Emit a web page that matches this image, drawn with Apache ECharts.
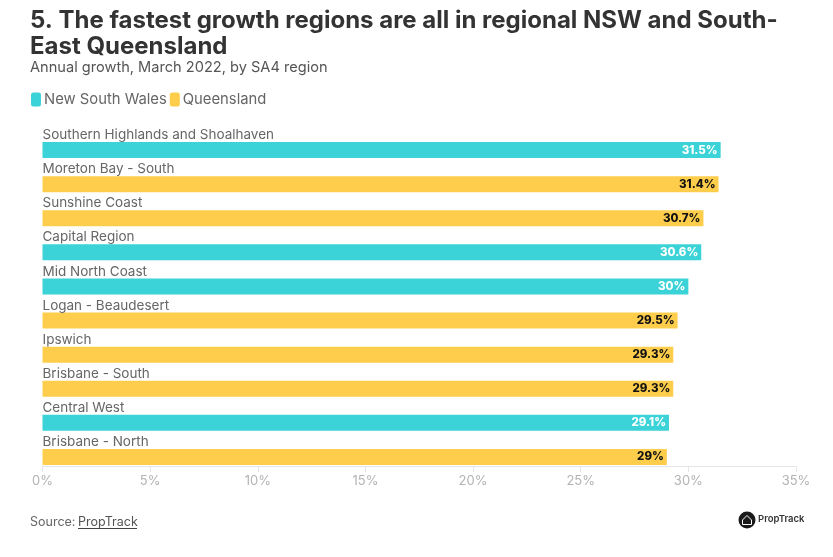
<!DOCTYPE html>
<html>
<head>
<meta charset="utf-8">
<style>html,body{margin:0;padding:0;background:#fff}#chart{width:833px;height:557px}</style>
<script src="https://cdn.jsdelivr.net/npm/echarts@6/dist/echarts.min.js"></script>
</head>
<body>
<div id="chart"></div>
<script>
var FONT = 'Inter';
var regions = ['Southern Highlands and Shoalhaven','Moreton Bay - South','Sunshine Coast','Capital Region','Mid North Coast','Logan - Beaudesert','Ipswich','Brisbane - South','Central West','Brisbane - North'];
var nswValues = [31.5,null,null,30.6,30,null,null,null,29.1,null];
var qldValues = [null,31.4,30.7,null,null,29.5,29.3,29.3,null,29];
var xTicks = [0,5,10,15,20,25,30,35];

var myChart = echarts.init(document.getElementById('chart'));
function barSeries(name, data, color, labelColor) {
	return {
		name: name,
		type: 'bar',
		stack: 'all',
		data: data,
		barWidth: 16,
		itemStyle: {color: color},
		label: {
			show: true,
			position: 'insideRight',
			distance: 3,
			formatter: '{c}%',
			fontFamily: FONT,
			fontSize: 11.5,
			fontWeight: 800,
			color: labelColor
		}
	};
}
myChart.setOption({
	animation: false,
	textStyle: {fontFamily: FONT},
	title: [
		{
			text: '5. The fastest growth regions are all in regional NSW and South-\nEast Queensland',
			left: 25, top: 3,
			textStyle: {fontFamily: FONT, fontSize: 24, fontWeight: 700, color: '#333333', lineHeight: 26}
		},
		{
			text: 'Annual growth, March 2022, by SA4 region',
			left: 25, top: 55,
			textStyle: {fontFamily: FONT, fontSize: 14.6, fontWeight: 400, color: '#555555'}
		}
	],
	legend: {
		left: 26, top: 87,
		itemWidth: 10, itemHeight: 14, itemGap: 3,
		icon: 'roundRect',
		data: ['New South Wales','Queensland'],
		textStyle: {fontFamily: FONT, fontSize: 14.8, color: '#666666', padding: [0,0,0,-2]}
	},
	grid: {left: 42.5, right: 37, top: 133, bottom: 83},
	xAxis: {
		type: 'value',
		min: 0, max: 35, interval: 5,
		offset: -8,
		axisLine: {show: true, lineStyle: {color: '#e6e6e6'}},
		axisTick: {show: true, length: 6, lineStyle: {color: '#e6e6e6'}},
		splitLine: {show: false},
		axisLabel: {
			margin: 9,
			fontFamily: FONT, fontSize: 13, color: '#b3b3b3',
			formatter: function(v){ return xTicks.indexOf(v) >= 0 ? v + '%' : ''; }
		}
	},
	yAxis: {
		type: 'category',
		inverse: true,
		data: regions,
		axisLine: {show: false},
		axisTick: {show: false},
		axisLabel: {
			inside: true,
			margin: 0,
			verticalAlign: 'bottom',
			padding: [0,0,8,0],
			fontFamily: FONT, fontSize: 13.5, color: '#666666'
		},
		z: 5
	},
	series: [
		barSeries('New South Wales', nswValues, '#3bd3d8', '#ffffff'),
		barSeries('Queensland', qldValues, '#fdcd4b', '#111111')
	],
	graphic: [
		{type:'text', left:30, top:516, style:{text:'Source: ', fontFamily:FONT, fontSize:12.5, fill:'#666666'}},
		{type:'text', left:78, top:516, style:{text:'PropTrack', fontFamily:FONT, fontSize:12.5, fill:'#555555'}},
		{type:'line', shape:{x1:78,y1:528.5,x2:137,y2:528.5}, style:{stroke:'#444444', lineWidth:1}},
		{type:'circle', shape:{cx:747,cy:520,r:8.5}, style:{fill:'#1a1a1a'}},
		{type:'polyline', shape:{points:[[742.5,520],[747,515.5],[751.5,520],[751.5,524.5],[742.5,524.5],[742.5,520]]}, style:{stroke:'#ffffff', fill:'none', lineWidth:1}},
		{type:'text', left:758, top:514, style:{text:'PropTrack', fontFamily:FONT, fontSize:9.5, fontWeight:600, fill:'#333333'}}
	]
});
</script>
</body>
</html>
